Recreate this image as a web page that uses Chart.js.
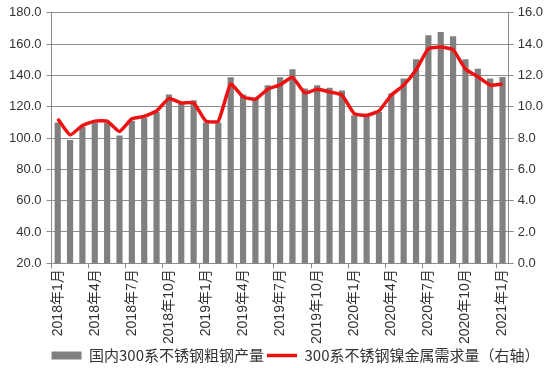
<!DOCTYPE html>
<html>
<head>
<meta charset="utf-8">
<script src="https://cdn.jsdelivr.net/npm/chart.js@4.4.1/dist/chart.umd.min.js"></script>
<style>
  html, body { margin: 0; padding: 0; background: #fff; }
  #wrap { width: 550px; height: 368px; }
</style>
</head>
<body>
<div id="wrap"><canvas id="chart"></canvas></div>
<script>
// months 2018-01 .. 2021-01
let months = [];
for (let y = 2018; y <= 2021; y++) {
    for (let m = 1; m <= 12; m++) {
        if (y === 2021 && m > 1) break;
        months.push(y + "年" + m + "月");
    }
}

// 国内300系不锈钢粗钢产量 (left axis)
let output300 = [110, 98.8, 107, 110, 110, 101.6, 111, 113, 116.6, 127.8, 122, 124.2,
                 110, 110, 138.8, 127.8, 125, 133.8, 138.8, 143.9, 131.7, 133.8, 132.1, 130.4,
                 114.5, 114.5, 116.6, 128.5, 138.1, 150.4, 165.6, 167.8, 165, 150.4, 144.3, 138.1,
                 139];

// 300系不锈钢镍金属需求量 (right axis)
let nickelDemand = [9.23, 8.2, 8.8, 9.08, 9.08, 8.42, 9.23, 9.38, 9.73, 10.52, 10.24, 10.24,
                    9.08, 9.08, 11.45, 10.63, 10.48, 11.12, 11.4, 11.88, 10.89, 11.12, 10.95, 10.74,
                    9.56, 9.45, 9.73, 10.74, 11.38, 12.35, 13.7, 13.81, 13.64, 12.41, 11.92, 11.38,
                    11.45];

let seriesNames = ["国内300系不锈钢粗钢产量", "300系不锈钢镍金属需求量（右轴）"];

let tickFont = { family: "'Liberation Sans', 'Noto Sans CJK SC', sans-serif", size: 13 };
let textColor = "#333";
let lineGray = "#8c8c8c";

Chart.defaults.animation = false;

// the legend in the original sits a bit right of centre
let legendShift = {
    id: "legendShift",
    afterLayout(chart) {
        chart.legend.left += 20;
        chart.legend.right += 20;
    }
};

let ctx = document.getElementById("chart").getContext("2d");
new Chart(ctx, {
    data: {
        labels: months,
        datasets: [
            {
                type: "bar",
                label: seriesNames[0],
                data: output300,
                backgroundColor: "#808080",
                barPercentage: 0.5,
                categoryPercentage: 1.0,
                yAxisID: "y",
                order: 1
            },
            {
                type: "line",
                label: seriesNames[1],
                data: nickelDemand,
                borderColor: "#ee1111",
                backgroundColor: "#ee1111",
                borderWidth: 3.5,
                pointRadius: 0,
                tension: 0.15,
                borderJoinStyle: "round",
                yAxisID: "y1",
                order: 0
            }
        ]
    },
    plugins: [legendShift],
    options: {
        responsive: true,
        maintainAspectRatio: false,
        layout: { padding: { left: 4, right: 3, top: 11, bottom: -5 } },
        plugins: {
            tooltip: { enabled: false },
            legend: {
                position: "bottom",
                labels: {
                    usePointStyle: true,
                    pointStyleWidth: 30,
                    boxHeight: 8,
                    padding: 3,
                    color: textColor,
                    font: { family: "'Noto Sans CJK SC', sans-serif", size: 15 },
                    sort: (a, b) => a.datasetIndex - b.datasetIndex,
                    generateLabels: function (chart) {
                        let items = Chart.defaults.plugins.legend.labels.generateLabels(chart);
                        items.forEach(it => {
                            it.pointStyle = it.datasetIndex === 0 ? "rect" : "line";
                        });
                        return items;
                    }
                }
            }
        },
        scales: {
            x: {
                offset: true,
                grid: {
                    offset: true,
                    drawOnChartArea: false,
                    drawTicks: true,
                    tickLength: 5,
                    tickColor: c => (c.index % 3 === 0 ? lineGray : "rgba(0,0,0,0)")
                },
                border: { display: true, color: lineGray },
                ticks: {
                    autoSkip: false,
                    minRotation: 90,
                    maxRotation: 90,
                    padding: 1,
                    color: textColor,
                    font: { family: tickFont.family, size: 14 },
                    callback: function (val, i) {
                        return i % 3 === 0 ? this.getLabelForValue(val) : "";
                    }
                }
            },
            y: {
                position: "left",
                min: 20,
                max: 180,
                grid: { color: lineGray, tickLength: 5 },
                border: { display: true, color: lineGray },
                ticks: {
                    stepSize: 20,
                    padding: 5,
                    color: textColor,
                    font: tickFont,
                    callback: v => v.toFixed(1)
                }
            },
            y1: {
                position: "right",
                min: 0,
                max: 16,
                grid: { drawOnChartArea: false, color: lineGray, tickLength: 5 },
                border: { display: true, color: lineGray },
                ticks: {
                    stepSize: 2,
                    padding: 4,
                    color: textColor,
                    font: tickFont,
                    callback: v => v.toFixed(1)
                }
            }
        }
    }
});
</script>
</body>
</html>
